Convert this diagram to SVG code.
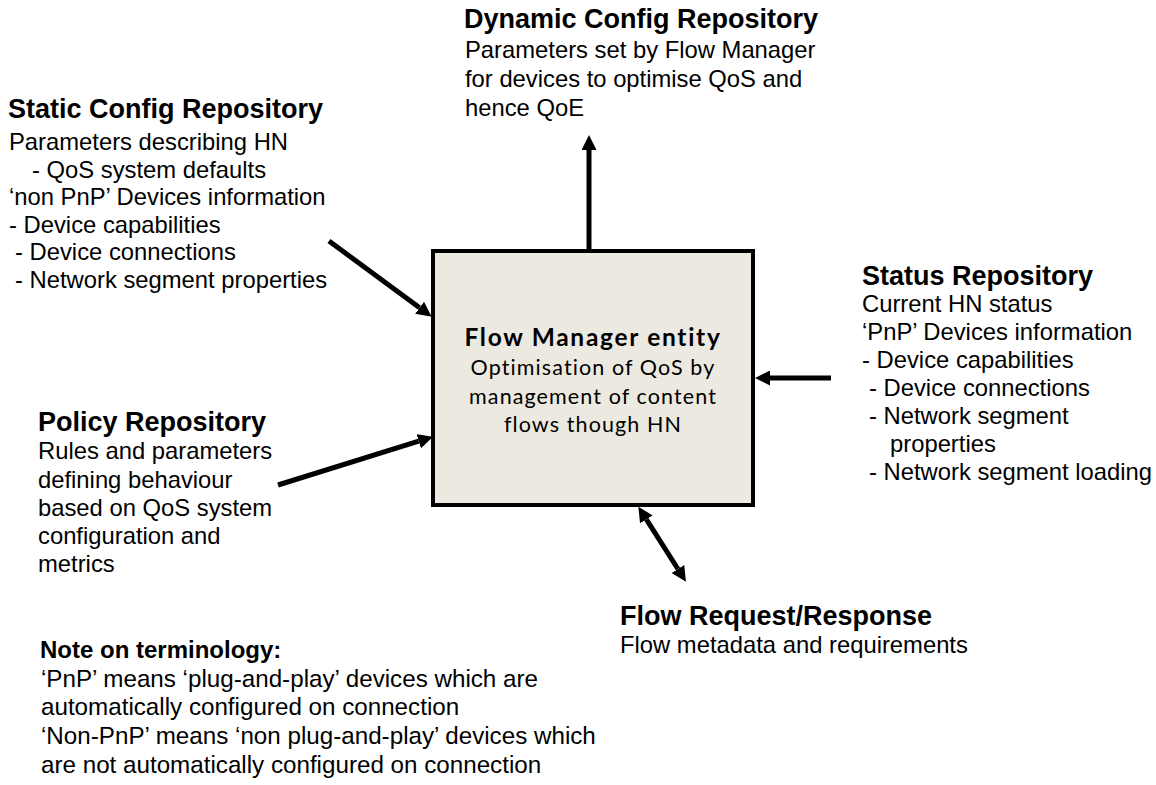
<svg xmlns="http://www.w3.org/2000/svg" width="1156" height="785" viewBox="0 0 1156 785">
<defs>
<style>
text{font-family:"Liberation Sans",Arial,sans-serif;fill:#000}
.t{font-size:27px;font-weight:bold}
.b{font-size:23.8px}
.nt{font-size:24px;font-weight:bold}
.nb{font-size:24.2px}
.ct{font-family:Lato,"Open Sans",sans-serif;font-size:24.5px;font-weight:bold;letter-spacing:1.7px}
.cb{font-family:Lato,"Open Sans",sans-serif;font-size:21.5px;letter-spacing:1.1px}
.c{stroke:#000;stroke-width:5;fill:none}
</style>
<marker id="ah" viewBox="0 0 10 10" refX="0" refY="5" markerWidth="3" markerHeight="3" orient="auto" markerUnits="strokeWidth">
<path d="M0,0 L10,5 L0,10 z" fill="#000"/>
</marker>
<marker id="ahs" viewBox="0 0 10 10" refX="10" refY="5" markerWidth="3" markerHeight="3" orient="auto" markerUnits="strokeWidth">
<path d="M10,0 L0,5 L10,10 z" fill="#000"/>
</marker>
</defs>
<rect width="1156" height="785" fill="#fff"/>
<g id="connectors">
<line class="c" x1="589" y1="251" x2="589" y2="150" marker-end="url(#ah)"/>
<line class="c" x1="329" y1="241" x2="419.6" y2="307.8" marker-end="url(#ah)"/>
<line class="c" x1="278" y1="485" x2="418.7" y2="441.2" marker-end="url(#ah)"/>
<line class="c" x1="831" y1="378" x2="770" y2="378" marker-end="url(#ah)"/>
<line class="c" x1="646.4" y1="519.4" x2="677.9" y2="569" marker-start="url(#ahs)" marker-end="url(#ah)"/>
</g>
<g id="flow-manager">
<rect x="433" y="251" width="320" height="254" fill="#ECEAE0" stroke="#000" stroke-width="4"/>
<text class="ct" x="593" y="346" text-anchor="middle">Flow Manager entity</text>
<text class="cb" x="593" y="375" text-anchor="middle">Optimisation of QoS by</text>
<text class="cb" x="593" y="404" text-anchor="middle">management of content</text>
<text class="cb" x="593" y="432" text-anchor="middle">flows though HN</text>
</g>
<g id="dynamic-config">
<text class="t" x="464" y="28">Dynamic Config Repository</text>
<text class="b" x="465" y="58">Parameters set by Flow Manager</text>
<text class="b" x="465" y="87">for devices to optimise QoS and</text>
<text class="b" x="465" y="116">hence QoE</text>
</g>
<g id="static-config">
<text class="t" x="8" y="118">Static Config Repository</text>
<text class="b" x="9" y="150">Parameters describing HN</text>
<text class="b" x="32" y="178">- QoS system defaults</text>
<text class="b" x="9" y="205">‘non PnP’ Devices information</text>
<text class="b" x="9" y="233">- Device capabilities</text>
<text class="b" x="15" y="260">- Device connections</text>
<text class="b" x="15" y="288">- Network segment properties</text>
</g>
<g id="status">
<text class="t" x="862" y="285">Status Repository</text>
<text class="b" x="862" y="312">Current HN status</text>
<text class="b" x="862" y="340">‘PnP’ Devices information</text>
<text class="b" x="862" y="368">- Device capabilities</text>
<text class="b" x="869" y="396">- Device connections</text>
<text class="b" x="869" y="424">- Network segment</text>
<text class="b" x="890" y="452">properties</text>
<text class="b" x="869" y="480">- Network segment loading</text>
</g>
<g id="policy">
<text class="t" x="38" y="431">Policy Repository</text>
<text class="b" x="38" y="459">Rules and parameters</text>
<text class="b" x="38" y="488">defining behaviour</text>
<text class="b" x="38" y="516">based on QoS system</text>
<text class="b" x="38" y="544">configuration and</text>
<text class="b" x="38" y="572">metrics</text>
</g>
<g id="flow-request">
<text class="t" x="620" y="625">Flow Request/Response</text>
<text class="b" x="620" y="653">Flow metadata and requirements</text>
</g>
<g id="note">
<text class="nt" x="40" y="658">Note on terminology:</text>
<text class="nb" x="41" y="687">‘PnP’ means ‘plug-and-play’ devices which are</text>
<text class="nb" x="41" y="715">automatically configured on connection</text>
<text class="nb" x="41" y="744">‘Non-PnP’ means ‘non plug-and-play’ devices which</text>
<text class="nb" x="41" y="773">are not automatically configured on connection</text>
</g>
</svg>
